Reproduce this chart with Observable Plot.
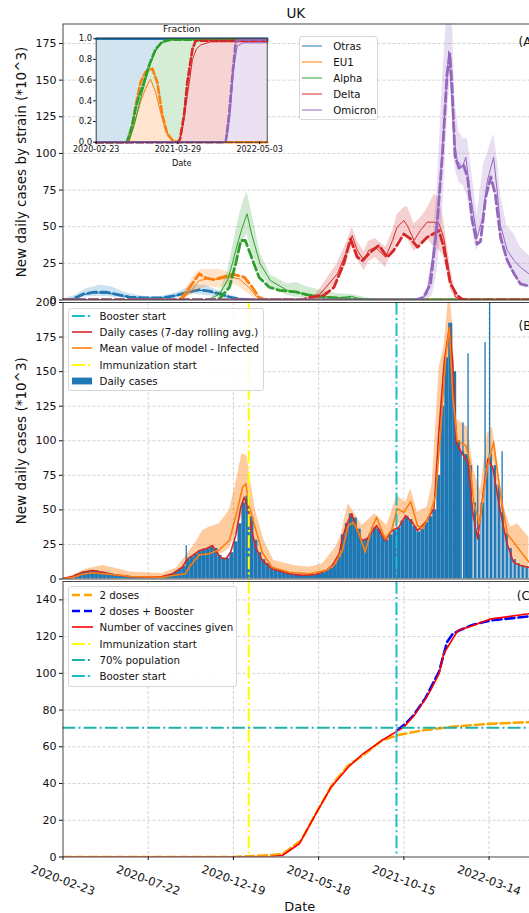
<!DOCTYPE html>
<html><head><meta charset="utf-8">
<script src="https://cdn.jsdelivr.net/npm/d3@7"></script>
<script src="https://cdn.jsdelivr.net/npm/@observablehq/plot@0.6"></script>
<style>
html,body{margin:0;padding:0;background:#fff;overflow:hidden;}
#root{position:relative;width:529px;height:913px;overflow:hidden;font-family:"DejaVu Sans",sans-serif;color:#111;}
#root > svg{position:absolute;left:0;top:0;}
.leg{position:absolute;background:rgba(255,255,255,0.85);border:1px solid #d6d6d6;border-radius:3px;box-sizing:border-box;}
.lt{position:absolute;height:16px;line-height:16px;white-space:nowrap;font-size:10.25px;color:#111;}
.sw{position:absolute;}
</style></head>
<body><div id="root"></div>
<script>
// ---------- DATA (x = days since 2020-02-23) ----------
const startDate = "2020-02-23";
const xTickLabels = ["2020-02-23","2020-07-22","2020-12-19","2021-05-18","2021-10-15","2022-03-14"];
const insetTickLabels = ["2020-02-23","2021-03-29","2022-05-03"];
const yTicksA = [0,25,50,75,100,125,150,175];
const yTicksB = [0,25,50,75,100,125,150,175,200];
const yTicksC = [0,20,40,60,80,100,120,140];
const yTicksInset = [0,0.2,0.4,0.6,0.8,1.0];
const strainNames = ["Otras","EU1","Alpha","Delta","Omicron"];

// Panel A: daily cases by strain (thousands)
const otrasSolid = [[0,0.3],[20,1],[35,3.5],[55,5],[80,4.5],[100,3],[130,1.5],[170,1.2],[200,3],[225,6],[245,6.5],[265,5],[285,3],[300,1.2],[330,0.2],[360,0.1],[837,0.1]];
const otrasDashed = [[0,0.3],[15,0.5],[25,2],[35,4],[55,5.3],[75,5.3],[90,4.2],[117,2],[145,1.4],[175,1.4],[198,3],[222,5.5],[240,7],[258,6],[276,4.2],[293,2],[311,0.5],[330,0.1],[360,0],[837,0]];
const otrasBand = [[0,0,0.5],[20,0,3],[40,2,7.5],[65,2.5,10],[85,2,9],[110,1,5],[140,0.5,2.5],[170,0.5,2],[200,1.5,5],[230,4,10],[250,3,10],[270,2.5,7],[290,1,4],[310,0.2,1.5],[340,0,0.5],[360,0,0.2]];

const eu1Solid = [[0,0],[210,0.5],[225,6],[240,13.3],[258,14.5],[275,14],[293,15.6],[310,14.5],[328,8.4],[340,2.6],[350,0.5],[380,0],[837,0]];
const eu1Dashed = [[0,0],[200,0],[210,1.5],[225,9.9],[240,17.9],[251,15.1],[266,13.8],[281,15.6],[300,17.5],[319,15.6],[331,9.9],[345,1.9],[355,0.3],[400,0],[837,0]];
const eu1Band = [[205,0,1],[220,2,10],[235,6,19],[246,8,21],[260,9,21],[275,8,21],[290,10,19],[305,10,18],[320,6,14],[333,2,8],[345,0,2.5],[355,0,0.5]];

const alphaSolid = [[0,0],[250,0],[258,0.5],[276,4.2],[290,13.8],[298,24.7],[307,38.3],[316,50],[324,58.8],[332,45],[347,24.7],[365,13.3],[395,6.5],[424,4.2],[460,2.4],[484,1.5],[508,2.5],[520,1],[545,0.3],[580,0],[837,0]];
const alphaDashed = [[0,0],[260,0],[276,1],[293,8.7],[304,24.7],[313,40.6],[321,40.6],[334,27],[345,15.6],[363,8.7],[381,6.6],[410,5.5],[430,3.5],[460,2],[500,1],[530,0.3],[560,0],[837,0]];
const alphaBand = [[258,0,1],[276,2,6],[290,8,20],[298,16,35],[307,28,52],[316,40,66],[324,45,73.5],[332,33,60],[347,18,32],[365,9,17],[395,3,11],[410,2,12],[430,1,9],[460,0.5,6],[484,0,4.2],[510,0,3.5],[540,0,1],[560,0,0]];

const deltaSolid = [[0,0],[430,0],[453,4.2],[483,17.9],[500,33.8],[509,44],[518,33.8],[530,26.9],[538,33.8],[550,36],[568,29.2],[580,40.6],[588,49.7],[600,54.2],[606,50.8],[618,40.6],[629,47.4],[641,53.1],[653,53.1],[662,52],[670,42.8],[682,13.3],[691,1.9],[700,0.3],[720,0],[837,0]];
const deltaDashed = [[0,0],[420,0],[436,1.9],[459,3.1],[477,8.7],[494,24.7],[506,41.7],[518,29.2],[527,26.9],[541,32.6],[556,37.2],[571,29.2],[582,33.8],[600,45],[612,41.7],[624,36],[641,42.8],[662,47.4],[670,36],[682,11],[694,3.1],[703,0.5],[720,0],[837,0]];
const deltaBand = [[440,0,1],[453,2,8],[483,12,25],[500,26,40],[509,36,50],[518,28,40],[530,20,33],[538,26,40],[550,29,42],[568,22,36],[580,33,47],[588,40,58],[600,44,63],[606,42,64],[618,33,52],[629,38,56],[641,42,62],[653,36,72],[662,34,70],[670,30,55],[682,7,22],[691,0.5,6],[700,0,1]];

const omicronSolid = [[0,0],[630,0],[641,4.2],[656,43],[665,88],[673,134],[679,170],[684,140],[688,111],[694,95],[703,90.6],[709,97.4],[717,72.4],[729,42.8],[738,55],[747,81.5],[758,97.4],[764,75],[770,51],[782,33.8],[794,27],[805,22.4],[820,17.9],[837,16]];
const omicronDashed = [[0,0],[620,0],[635,1.9],[647,11],[659,54],[668,100],[676,154],[681,168],[685,145],[690,98],[697,90],[705,92],[712,84],[720,55],[729,38],[735,40],[744,70],[753,84],[761,72],[770,43],[782,27],[794,18],[805,11],[815,10],[837,9]];
const omicronBand = [[630,0,0.5],[641,0,8],[650,3,30],[659,20,80],[668,60,150],[676,120,200],[681,150,200],[686,120,185],[690,90,135],[697,80,115],[705,78,110],[712,70,110],[717,58,95],[725,38,70],[729,33,58],[740,60,92],[747,72,100],[758,82,113],[765,70,95],[770,40,72],[782,25,50],[794,16,45],[805,11,36],[821,8,30],[837,7,28]];

// Inset: fractions (data) on a common day grid
const insetDays = [0,150,165,185,200,217,242,266,291,315,340,364,390,405,420,433,446,460,471,490,511,560,634,645,657,672,690,720,837];
const fracEU1 = [0,0,0.04,0.16,0.27,0.39,0.52,0.61,0.48,0.29,0.11,0.03,0,0,0,0,0,0,0,0,0,0,0,0,0,0,0,0,0];
const fracAlphaCum = [0,0,0.04,0.16,0.28,0.42,0.6,0.76,0.88,0.95,0.98,0.99,0.99,0.99,0.99,0.99,0.99,0.99,0.99,0.99,0.99,0.99,0.99,0.99,0.99,0.99,0.99,0.99,0.99];
const fracDeltaCum = [0,0,0,0,0,0,0,0,0,0,0,0,0,0,0.1,0.27,0.45,0.64,0.8,0.9,0.94,0.97,0.97,0.97,0.97,0.97,0.97,0.97,0.97];
const fracOmicron = [0,0,0,0,0,0,0,0,0,0,0,0,0,0,0,0,0,0,0,0,0,0,0,0.1,0.3,0.7,0.93,0.96,0.96];
// Inset model (dashed)
const insetEU1Model = [[0,0],[150,0],[160,0.02],[176,0.16],[193,0.35],[217,0.58],[242,0.68],[275,0.71],[299,0.58],[324,0.26],[348,0.08],[373,0.02],[400,0],[837,0]];
const insetAlphaModel = [[0,0],[150,0],[176,0.16],[193,0.33],[209,0.44],[234,0.58],[258,0.74],[291,0.9],[324,0.97],[364,0.99],[837,0.99]];
const insetDeltaModel = [[0,0],[400,0],[410,0.03],[430,0.26],[446,0.58],[471,0.9],[487,0.98],[837,0.98]];
const insetOmicronModel = [[0,0],[634,0],[650,0.26],[667,0.65],[683,0.97],[699,0.99],[837,0.99]];
const insetOtras = [[0,1],[837,1]];

// Panel B
const casesWeekly = [[0,0.2],[7,0.6],[14,1.5],[21,3],[28,4],[35,5],[42,5.5],[49,6],[56,5.8],[63,5.2],[70,4.8],[77,4.2],[84,3.6],[91,3],[98,2.6],[105,2.2],[112,1.8],[119,1.6],[126,1.4],[133,1.3],[140,1.2],[147,1.2],[154,1.3],[161,1.4],[168,1.6],[175,2],[182,2.6],[189,3.5],[196,5],[203,7],[210,9],[217,14],[224,16],[231,18],[238,20],[245,21.5],[252,22],[259,23],[266,22],[273,17],[280,15],[287,15],[294,19],[301,27],[308,40],[315,55],[322,60],[329,45],[336,28],[343,19],[350,14],[357,11],[364,8.5],[371,7],[378,6],[385,5],[392,4.2],[399,3.6],[406,3.2],[413,2.8],[420,2.6],[427,2.6],[434,2.8],[441,3.2],[448,3.6],[455,4.5],[462,6],[469,8],[476,11],[483,16],[490,32],[497,40],[504,47],[511,44],[518,36],[525,28],[532,29],[539,33],[546,37],[553,36],[560,31],[567,28],[574,32],[581,35],[588,37],[595,42],[602,45],[609,43],[616,38],[623,34],[630,36],[637,41],[644,45],[651,50],[658,75],[665,125],[672,160],[679,185],[686,150],[693,100],[700,92],[707,90],[714,82],[721,55],[728,32],[735,55],[742,80],[749,90],[756,82],[763,68],[770,48],[777,33],[784,22],[791,14],[798,11],[805,9.5],[812,8.5],[819,8]];
const caseSpikes = [[217,24],[692,110],[704,113],[713,163],[730,82],[743,171],[751,200],[773,92]];
const noReportDays = [[703,90],[722,60],[729,35],[736,60],[743,80],[750,90],[757,85],[764,70],[771,50],[778,35],[785,25],[792,16],[799,12],[806,10],[813,9],[820,8]];
const rollingAvg = [[0,0.3],[17,1.8],[34,4.9],[52,6.1],[70,4.9],[87,3.3],[117,1.8],[152,1.3],[175,1.8],[193,3.8],[210,8.5],[219,14.6],[228,16.9],[240,20.6],[251,21.8],[263,24.2],[269,20.6],[278,15.3],[287,14.6],[295,19.4],[304,31.5],[313,51.9],[319,59.2],[325,51.9],[331,37.5],[339,23],[351,13.4],[368,7.4],[398,3.8],[422,2.6],[445,3.3],[463,6.1],[474,9.8],[486,18.2],[492,30],[500,40],[508,47.2],[517,36.3],[526,27.8],[535,28.9],[552,38.7],[567,27.8],[579,35.1],[591,37.5],[603,45.9],[615,41],[624,35],[638,41],[653,50.8],[662,108.6],[671,156.8],[680,182],[686,157],[692,99],[701,91.7],[713,84.5],[721,48.3],[730,29],[739,60.4],[748,87],[757,79.7],[769,50.8],[781,26.6],[793,12.2],[805,9.8],[820,8.5]];
const modelMean = [[0,0.2],[17,1],[34,3.4],[52,4.5],[87,3.3],[120,1.8],[175,1.3],[193,2.5],[216,3.8],[222,8.5],[240,17.5],[257,18.2],[275,21],[293,28],[307,50],[316,66.4],[322,68.9],[327,54],[339,36],[351,19],[368,8.5],[398,4.9],[433,3.8],[463,6.1],[477,9.8],[492,20.6],[502,38.7],[511,41],[520,33.9],[532,19.4],[543,36.3],[552,44.7],[567,29],[579,36],[588,50.8],[600,48.3],[612,56],[624,38.7],[633,36.3],[647,48.3],[656,60.4],[665,108.6],[674,161.7],[680,182],[686,132.7],[694,100],[709,96.6],[716,85],[723,55],[733,40],[747,81],[758,99],[770,61.6],[782,32.7],[800,23],[820,12.2]];
const modelBand = [[0,0,0.5],[20,0.5,3],[40,2,7],[70,2.5,9.8],[100,1.5,7],[117,1,5],[175,0.8,4],[200,2,8],[210,3,13.4],[234,10,26.6],[246,14,35],[257,15,37.5],[275,17,40],[293,22,49.6],[304,33,68.9],[315,45,90.6],[324,48,89],[330,40,71],[339,25,49.6],[354,13,27.8],[371,6,13.4],[406,3,9.8],[435,2.5,8.5],[457,4,11],[480,8,23],[489,12,31.5],[502,30,54.4],[514,30,47],[526,18,38.7],[549,35,47.2],[570,24,38.7],[588,40,60.4],[603,40,55.6],[612,45,65.2],[624,33,48.3],[641,38,52],[650,45,69],[662,95,152],[671,140,169],[680,160,210],[686,115,185],[692,88,116],[712,82,109.8],[723,45,78.5],[735,30,64],[747,64,105],[756,80,109.8],[764,68,85.7],[776,40,52],[788,18,37.5],[800,10,40],[820,3,30.2]];
const immunizationDay = 327;
const boosterDay = 587;

// Panel C (% of population)
const twoDoses = [[0,0],[300,0],[335,0.5],[386,1.5],[419,9],[448,25.3],[475,39.9],[502,49.8],[528,55.3],[561,63.4],[588,66.2],[632,68.9],[692,71.1],[751,72.5],[817,73.4],[837,73.6]];
const twoDosesBooster = [[588,69],[603,72.5],[618,77.5],[638,86.5],[662,101],[676,117],[686,121.5],[697,123.3],[722,126.5],[753,128.8],[820,131],[837,131.5]];
const vaccinesGiven = [[0,0],[360,0],[386,0.8],[416,7.2],[445,23.5],[472,38],[502,48.9],[528,56.2],[561,63.4],[600,70.7],[618,77],[638,86.1],[647,90.7],[662,99.8],[670,110.6],[677,114.2],[695,123.3],[722,126],[751,129.5],[820,132.4],[837,133]];
const populationLine = 70.4;

// ---------- RENDER ----------
const t0 = new Date(startDate + "T00:00:00Z").getTime();
const D = d => new Date(t0 + d * 864e5);
const xDomain = [D(0), D(837)];
const xTicks = xTickLabels.map(s => new Date(s + "T00:00:00Z"));
const fmt = d3.utcFormat("%Y-%m-%d");
const tab = {blue:"#1f77b4", orange:"#ff7f0e", green:"#2ca02c", red:"#d62728", purple:"#9467bd", cyan:"#17becf"};
const strainColors = [tab.blue, tab.orange, tab.green, tab.red, tab.purple];
const W = 540, H = 913;
const svgStyle = "max-width:none;background:none;overflow:visible;font-family:'DejaVu Sans',sans-serif;color:#111;";
const gridStyle = {stroke:"#b0b0b0", strokeOpacity:0.7, strokeDasharray:"3,2", strokeWidth:0.8};
const dashDot = "12.8,3.2,2,3.2";
const root = document.getElementById("root");
const px = d => D(d[0]);

// Panel A
const strains = [
  {band: otrasBand, solid: otrasSolid, dashed: otrasDashed},
  {band: eu1Band, solid: eu1Solid, dashed: eu1Dashed},
  {band: alphaBand, solid: alphaSolid, dashed: alphaDashed},
  {band: deltaBand, solid: deltaSolid, dashed: deltaDashed},
  {band: omicronBand, solid: omicronSolid, dashed: omicronDashed}
];
const marksA = [Plot.gridY(yTicksA.slice(1), gridStyle)];
strains.forEach((s, i) => {
  const c = strainColors[i];
  marksA.push(Plot.areaY(s.band, {x: px, y1: d => d[1], y2: d => d[2], fill: c, fillOpacity: 0.22, clip: true}));
  marksA.push(Plot.line(s.solid, {x: px, y: d => d[1], stroke: c, strokeWidth: 1, clip: true}));
  marksA.push(Plot.line(s.dashed, {x: px, y: d => d[1], stroke: c, strokeWidth: 2.8, strokeDasharray: "9,4", clip: true}));
});
marksA.push(
  Plot.frame({stroke:"#333", strokeWidth:0.9}),
  Plot.axisY({ticks: yTicksA, tickSize: 3.5, tickPadding: 3, fontSize: 11, label: null}),
  Plot.text(["New daily cases by strain (*10^3)"], {frameAnchor:"left", dx:-41, rotate:-90, fontSize:13.5, textAnchor:"middle", lineAnchor:"middle"}),
  Plot.text(["UK"], {frameAnchor:"top", dx:-5, dy:-10.5, fontSize:13.5, lineAnchor:"middle"}),
  Plot.text(["(A)"], {frameAnchor:"top-right", dx:-20, dy:18, fontSize:12, textAnchor:"start", lineAnchor:"middle"})
);
root.appendChild(Plot.plot({
  width: W, height: H, marginLeft: 62.5, marginRight: 2, marginTop: 23.5, marginBottom: H - 299.5,
  style: svgStyle,
  x: {type: "utc", domain: xDomain, axis: null},
  y: {domain: [0, 188.3], axis: null},
  marks: marksA
}));

// Panel B
root.appendChild(Plot.plot({
  width: W, height: H, marginLeft: 62.5, marginRight: 2, marginTop: 302, marginBottom: H - 578.5,
  style: svgStyle,
  x: {type: "utc", domain: xDomain, axis: null},
  y: {domain: [0, 200], axis: null},
  marks: [
    Plot.gridY(yTicksB.slice(1), gridStyle),
    Plot.gridX(xTicks.slice(1), gridStyle),
    Plot.areaY(modelBand, {x: px, y1: d => d[1], y2: d => d[2], fill: tab.orange, fillOpacity: 0.4, clip: true}),
    Plot.rectY(casesWeekly, {x1: px, x2: d => D(d[0] + 7), y1: 0, y2: d => d[1], fill: tab.blue, inset: 0, clip: true}),
    Plot.ruleX(caseSpikes, {x: px, y1: 0, y2: d => d[1], stroke: tab.blue, strokeWidth: 1.3, clip: true}),
    Plot.ruleX(noReportDays, {x: px, y1: 0, y2: d => d[1], stroke: "white", strokeWidth: 1.1, strokeOpacity: 0.9, clip: true}),
    Plot.line(rollingAvg, {x: px, y: d => d[1], stroke: tab.red, strokeWidth: 1.6, clip: true}),
    Plot.line(modelMean, {x: px, y: d => d[1], stroke: tab.orange, strokeWidth: 1.6, clip: true}),
    Plot.ruleX([D(immunizationDay)], {stroke: "#ffff00", strokeWidth: 2, strokeDasharray: dashDot}),
    Plot.ruleX([D(boosterDay)], {stroke: tab.cyan, strokeWidth: 2, strokeDasharray: dashDot}),
    Plot.frame({stroke:"#333", strokeWidth:0.9}),
    Plot.axisY({ticks: yTicksB, tickSize: 3.5, tickPadding: 3, fontSize: 11, label: null}),
    Plot.text(["New daily cases (*10^3)"], {frameAnchor:"left", dx:-41, rotate:-90, fontSize:13.5, textAnchor:"middle", lineAnchor:"middle"}),
    Plot.text(["(B)"], {frameAnchor:"top-right", dx:-20, dy:23.7, fontSize:12, textAnchor:"start", lineAnchor:"middle"})
  ]
}));

// Panel C
root.appendChild(Plot.plot({
  width: W, height: H, marginLeft: 62.5, marginRight: 2, marginTop: 581, marginBottom: H - 856.5,
  style: svgStyle,
  x: {type: "utc", domain: xDomain, axis: null},
  y: {domain: [0, 150], axis: null},
  marks: [
    Plot.gridY(yTicksC.slice(1), gridStyle),
    Plot.gridX(xTicks.slice(1), gridStyle),
    Plot.line(twoDoses, {x: px, y: d => d[1], stroke: "#ffa500", strokeWidth: 2.6, strokeDasharray: "9,4", clip: true}),
    Plot.line(twoDosesBooster, {x: px, y: d => d[1], stroke: "#0000ff", strokeWidth: 2.6, strokeDasharray: "9,4", clip: true}),
    Plot.line(vaccinesGiven, {x: px, y: d => d[1], stroke: "#ff0000", strokeWidth: 1.6, clip: true}),
    Plot.ruleX([D(immunizationDay)], {stroke: "#ffff00", strokeWidth: 2, strokeDasharray: dashDot}),
    Plot.ruleY([populationLine], {stroke: "#20b2aa", strokeWidth: 2, strokeDasharray: dashDot}),
    Plot.ruleX([D(boosterDay)], {stroke: tab.cyan, strokeWidth: 2, strokeDasharray: dashDot}),
    Plot.frame({stroke:"#333", strokeWidth:0.9}),
    Plot.axisY({ticks: yTicksC, tickSize: 3.5, tickPadding: 3, fontSize: 11, label: null}),
    Plot.axisX({ticks: xTicks, tickSize: 3.5, tickFormat: () => "", label: null}),
    Plot.text(xTicks, {x: d => d, frameAnchor: "bottom", dy: 23.5, rotate: 20, text: d => fmt(d), fontSize: 11.5, textAnchor: "middle", lineAnchor: "middle"}),
    Plot.text(["Date"], {frameAnchor: "bottom", dy: 49.5, dx: -1, fontSize: 13, lineAnchor: "middle"}),
    Plot.text(["(C)"], {frameAnchor:"top-right", dx:-21.8, dy:14.7, fontSize:12, textAnchor:"start", lineAnchor:"middle"})
  ]
}));

// Inset (fractions)
const insetRows = insetDays.map((d, i) => ({
  d, eu1: fracEU1[i], alpha: fracAlphaCum[i], delta: fracDeltaCum[i], om: fracOmicron[i]
}));
const ix = r => D(r.d);
const iH = 200;
root.appendChild(Plot.plot({
  width: W, height: iH, marginLeft: 95.7, marginRight: W - 266.7, marginTop: 37.7, marginBottom: iH - 141.7,
  style: svgStyle,
  x: {type: "utc", domain: xDomain, axis: null},
  y: {domain: [0, 1.005], axis: null},
  marks: [
    Plot.frame({fill: "white"}),
    Plot.areaY(insetRows, {x: ix, y1: r => r.alpha, y2: 1, fill: tab.blue, fillOpacity: 0.2}),
    Plot.areaY(insetRows, {x: ix, y1: 0, y2: r => r.eu1, fill: tab.orange, fillOpacity: 0.2}),
    Plot.areaY(insetRows, {x: ix, y1: r => Math.max(r.eu1, r.delta), y2: r => r.alpha, fill: tab.green, fillOpacity: 0.2}),
    Plot.areaY(insetRows, {x: ix, y1: r => r.om, y2: r => r.delta, fill: tab.red, fillOpacity: 0.2}),
    Plot.areaY(insetRows, {x: ix, y1: 0, y2: r => r.om, fill: tab.purple, fillOpacity: 0.2}),
    Plot.line(insetOtras, {x: px, y: d => d[1], stroke: tab.blue, strokeWidth: 2.4}),
    Plot.line(insetRows, {x: ix, y: r => r.eu1, stroke: tab.orange, strokeWidth: 1}),
    Plot.line(insetEU1Model, {x: px, y: d => d[1], stroke: tab.orange, strokeWidth: 2.6, strokeDasharray: "7,3"}),
    Plot.line(insetRows, {x: ix, y: r => r.alpha, stroke: tab.green, strokeWidth: 1}),
    Plot.line(insetAlphaModel, {x: px, y: d => d[1], stroke: tab.green, strokeWidth: 2.6, strokeDasharray: "7,3"}),
    Plot.line(insetRows, {x: ix, y: r => r.delta, stroke: tab.red, strokeWidth: 1}),
    Plot.line(insetDeltaModel, {x: px, y: d => d[1], stroke: tab.red, strokeWidth: 2.6, strokeDasharray: "7,3"}),
    Plot.line(insetRows, {x: ix, y: r => r.om, stroke: tab.purple, strokeWidth: 1}),
    Plot.line(insetOmicronModel, {x: px, y: d => d[1], stroke: tab.purple, strokeWidth: 2.6, strokeDasharray: "7,3"}),
    Plot.frame({stroke: "#333", strokeWidth: 0.9}),
    Plot.axisY({ticks: yTicksInset, tickSize: 2.5, tickPadding: 1.5, fontSize: 8.5, tickFormat: d3.format(".1f"), label: null}),
    Plot.axisX({ticks: insetTickLabels.map(s => new Date(s + "T00:00:00Z")), tickSize: 2.5, tickPadding: 2, fontSize: 8, tickFormat: fmt, label: null}),
    Plot.text(["Date"], {frameAnchor: "bottom", dy: 21.6, fontSize: 8.2, lineAnchor: "middle"}),
    Plot.text(["Fraction"], {frameAnchor: "top", dy: -9.4, fontSize: 9.4, lineAnchor: "middle"})
  ]
}));

// ---------- LEGENDS ----------
function lineSwatch(x0, x1, y, color, width, dash, opacity) {
  const w = x1 - x0;
  return `<svg class="sw" style="left:${x0}px;top:${y - 5}px" width="${w}" height="10"><line x1="0" y1="5" x2="${w}" y2="5" stroke="${color}" stroke-width="${width}" ${dash ? `stroke-dasharray="${dash}"` : ""} opacity="${opacity ?? 1}"/></svg>`;
}
function patchSwatch(x0, x1, y, color) {
  const w = x1 - x0;
  return `<svg class="sw" style="left:${x0}px;top:${y - 5}px" width="${w}" height="10"><rect x="0" y="1.6" width="${w}" height="6.8" fill="${color}"/></svg>`;
}
function legend(box, textX, rows) {
  let html = `<div class="leg" style="left:${box[0]}px;top:${box[1]}px;width:${box[2] - box[0]}px;height:${box[3] - box[1]}px"></div>`;
  for (const r of rows) {
    html += r.swatch;
    html += `<div class="lt" style="left:${textX}px;top:${r.y - 8}px">${r.label}</div>`;
  }
  const wrap = document.createElement("div");
  wrap.innerHTML = html;
  while (wrap.firstChild) root.appendChild(wrap.firstChild);
}
const rowsA = [46, 62.2, 78.3, 94.3, 110.4];
legend([298.6, 36.4, 378.2, 120.2], 333.2, strainNames.map((n, i) => ({
  y: rowsA[i], label: n, swatch: lineSwatch(301.5, 322.2, rowsA[i], strainColors[i], 1.5, null, 0.65)
})));

const legendBLabels = ["Booster start", "Daily cases (7-day rolling avg.)", "Mean value of model - Infected", "Immunization start", "Daily cases"];
const rowsB = [316, 332.3, 348.4, 364.6, 380.8];
legend([67.5, 307.7, 264.2, 391], 99.5, [
  {y: rowsB[0], label: legendBLabels[0], swatch: lineSwatch(71.5, 92.1, rowsB[0], tab.cyan, 2, dashDot)},
  {y: rowsB[1], label: legendBLabels[1], swatch: lineSwatch(71.5, 92.1, rowsB[1], tab.red, 1.6)},
  {y: rowsB[2], label: legendBLabels[2], swatch: lineSwatch(71.5, 92.1, rowsB[2], tab.orange, 1.6)},
  {y: rowsB[3], label: legendBLabels[3], swatch: lineSwatch(71.5, 92.1, rowsB[3], "#ffff00", 2, dashDot)},
  {y: rowsB[4], label: legendBLabels[4], swatch: patchSwatch(71.5, 92.1, rowsB[4], tab.blue)}
]);

const legendCLabels = ["2 doses", "2 doses + Booster", "Number of vaccines given", "Immunization start", "70% population", "Booster start"];
const rowsC = [595, 611.2, 627.4, 643.5, 659.7, 675.9];
legend([67.5, 586, 237.2, 686.7], 99.5, [
  {y: rowsC[0], label: legendCLabels[0], swatch: lineSwatch(71.5, 92.8, rowsC[0], "#ffa500", 2.6, "8,4")},
  {y: rowsC[1], label: legendCLabels[1], swatch: lineSwatch(71.5, 92.8, rowsC[1], "#0000ff", 2.6, "8,4")},
  {y: rowsC[2], label: legendCLabels[2], swatch: lineSwatch(71.5, 92.8, rowsC[2], "#ff0000", 1.6)},
  {y: rowsC[3], label: legendCLabels[3], swatch: lineSwatch(71.5, 92.8, rowsC[3], "#ffff00", 2, dashDot)},
  {y: rowsC[4], label: legendCLabels[4], swatch: lineSwatch(71.5, 92.8, rowsC[4], "#20b2aa", 2, dashDot)},
  {y: rowsC[5], label: legendCLabels[5], swatch: lineSwatch(71.5, 92.8, rowsC[5], tab.cyan, 2, dashDot)}
]);
</script>
</body></html>
